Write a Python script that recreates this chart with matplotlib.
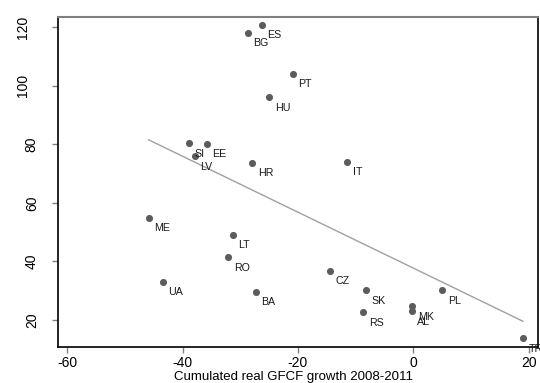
import matplotlib
matplotlib.use("Agg")
import matplotlib.pyplot as plt
import numpy as np

plt.rcParams["font.family"] = ["Liberation Sans", "DejaVu Sans"]

countries = ["ES", "BG", "PT", "HU", "SI", "EE", "LV", "HR", "IT", "ME", "LT",
             "RO", "UA", "BA", "CZ", "SK", "RS", "MK", "AL", "PL", "TR"]
gfcf_growth = [-26.3, -28.7, -20.9, -25.0, -38.9, -35.8, -37.9, -27.9, -11.5, -45.9, -31.3,
               -32.1, -43.4, -27.3, -14.4, -8.2, -8.7, -0.2, -0.3, 5.0, 19.0]
y_values = [120.7, 118.1, 104.0, 96.0, 80.3, 80.2, 75.9, 73.7, 74.0, 54.9, 49.1,
            41.4, 33.1, 29.7, 36.8, 30.2, 22.7, 24.7, 23.0, 30.1, 13.8]

x_ticks = [-60, -40, -20, 0, 20]
y_ticks = [20, 40, 60, 80, 100, 120]

x = np.array(gfcf_growth)
y = np.array(y_values)

fig = plt.figure(figsize=(5.4, 3.83), dpi=100)
ax = fig.add_axes([58 / 540, 1 - 347 / 383, 480 / 540, 330 / 383])

# OLS fit drawn over the range of the data
slope, intercept = np.polyfit(x, y, 1)
xf = np.array([x.min(), x.max()])
ax.plot(xf, intercept + slope * xf, color="#a0a0a0", lw=1)

ax.scatter(x, y, s=26, color="#5c5c5c", zorder=3, linewidths=0)
for name, xi, yi in zip(countries, x, y):
    ax.annotate(name, (xi, yi), xytext=(4, -4), textcoords="offset points",
                ha="left", va="top", fontsize=7.7, color="#1a1a1a", clip_on=False)

ax.set_xlim(-61.6, 21.6)
ax.set_ylim(10.8, 123.4)
ax.set_xticks(x_ticks)
ax.set_yticks(y_ticks)
ax.set_xticklabels([str(v) for v in x_ticks], fontsize=10)
ax.set_yticklabels([str(v) for v in y_ticks], fontsize=10, rotation=90, va="center")
ax.tick_params(color="#808080", length=4.3, width=1)
ax.tick_params(axis="x", pad=2.5)
# stata-like placement: longer labels sit further from the axis
for tick, v in zip(ax.yaxis.get_major_ticks(), y_ticks):
    tick.set_pad(9.5 + 6 * (len(str(v)) - 2))

ax.set_xlabel("Cumulated real GFCF growth 2008-2011", fontsize=9.5)
ax.xaxis.set_label_coords((293 - 58) / 480, -0.072)
ax.xaxis.label.set_va("top")

for side in ["left", "bottom", "right"]:
    ax.spines[side].set_color("black")
    ax.spines[side].set_linewidth(1.2)
ax.spines["top"].set_color("#808080")
ax.spines["top"].set_linewidth(1.5)

fig.savefig("out.png", dpi=100)
